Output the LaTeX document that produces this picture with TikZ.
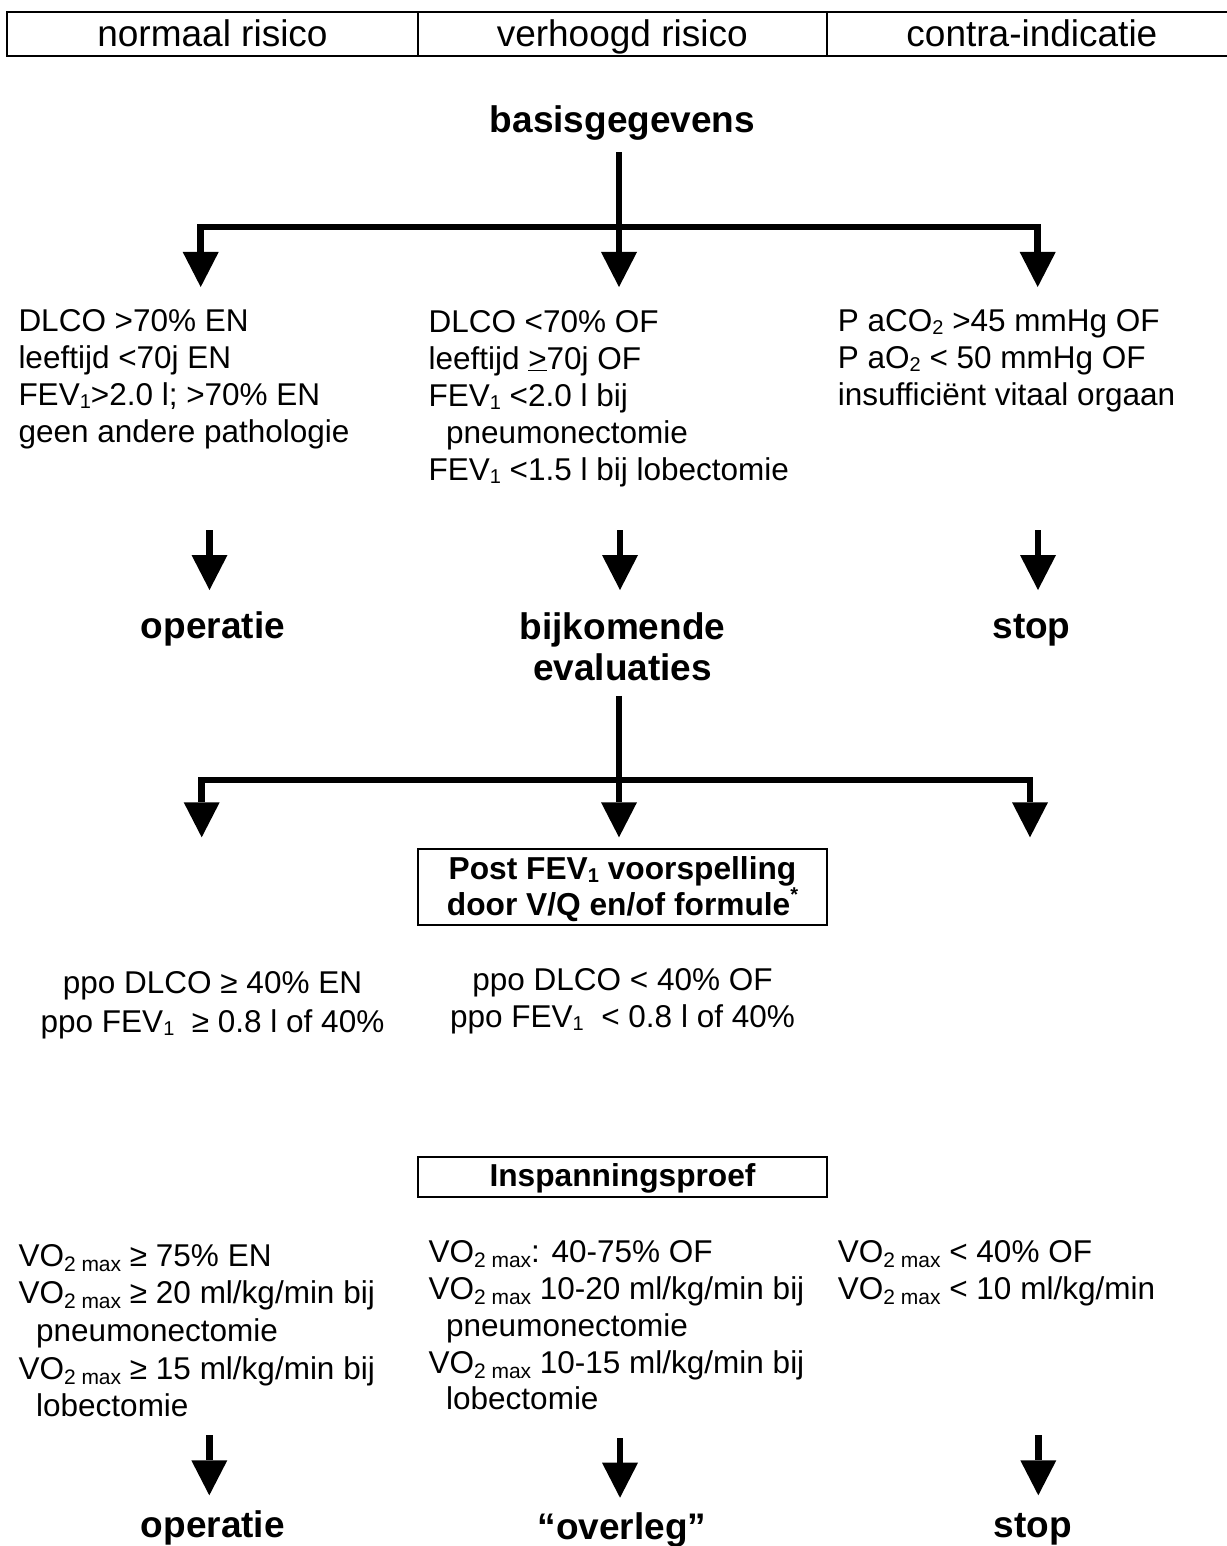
\documentclass[tikz,border=0pt]{standalone}
\usepackage{fontspec}
\setmainfont{Liberation Sans}
\usetikzlibrary{arrows.meta}
\newcommand\dnA[1]{\raisebox{-3pt}{\fontsize{20}{20}\selectfont #1}}
\newcommand\dnB[1]{\raisebox{-5pt}{\fontsize{21}{21}\selectfont #1}}
\newcommand\astsup{\raisebox{14pt}{\fontsize{20}{20}\selectfont *}}
\newcommand\stA{\rule{0pt}{27pt}}
\newcommand\stT{\rule{0pt}{30pt}}
\begin{document}
\begin{tikzpicture}[x=1pt,y=-1pt,
 hcell/.style={draw,line width=1.8pt,minimum width=410.4pt,minimum height=44pt,text height=30pt,text depth=4pt,inner sep=0pt,font=\fontsize{37}{44}\selectfont},
 pbox/.style={draw,line width=1.8pt,minimum width=409.6pt,inner sep=0pt,font=\bfseries\fontsize{31.7}{35.7}\selectfont},
 body/.style={inner sep=0pt,anchor=north west,align=left,font=\fontsize{31.5}{37}\selectfont},
 cbody/.style={inner sep=0pt,anchor=north,align=center,font=\fontsize{31.5}{37}\selectfont},
 title/.style={inner sep=0pt,anchor=base,font=\bfseries\fontsize{37}{41}\selectfont},
 stem/.style={line width=6.5pt},
 arr/.style={line width=6.5pt,-{Triangle[width=36pt,length=35pt,line width=0pt]}},
]
\useasboundingbox (0,0) rectangle (1226,1546);

% header table
\node[hcell] (h1) at (212.5,33.7) {normaal risico};
\node[hcell,minimum width=409pt] (h2) at (622.2,33.7) {verhoogd risico};
\node[hcell] (h3) at (1031.9,33.7) {contra-indicatie};

% level 1
\node[title] (bas) at (622.5,133) {basisgegevens};
\coordinate (j1) at (619,227);
\coordinate (a1) at (200.7,287);
\coordinate (a2) at (619,287);
\coordinate (a3) at (1037.7,287);
\draw[stem,shorten <=11pt] (bas.south -| j1) -- (j1);
\draw[arr] (j1) -| (a1);
\draw[arr] (j1) -- (a2);
\draw[arr] (j1) -| (a3);

\node[body] (t1) at (18.3,304.7) {\stA DLCO >70\% EN\\leeftijd <70j EN\\FEV\dnA{1}>2.0 l; >70\% EN\\geen andere pathologie};
\node[body] (t2) at (428.3,305) {\stA DLCO <70\% OF\\leeftijd \underline{>}70j OF\\FEV\dnA{1} <2.0 l bij\\\hspace*{17.7pt}pneumonectomie\\FEV\dnA{1} <1.5 l bij lobectomie};
\node[body] (t3) at (837.7,304.7) {\stA P aCO\dnA{2} >45 mmHg OF\\P aO\dnA{2} < 50 mmHg OF\\insufficiënt vitaal orgaan};

\coordinate (b1s) at (209.5,530);
\coordinate (b1t) at (209.5,590);
\coordinate (b2s) at (620,530);
\coordinate (b2t) at (620,590);
\coordinate (b3s) at (1038,530);
\coordinate (b3t) at (1038,590);
\draw[arr] (b1s) -- (b1t);
\draw[arr] (b2s) -- (b2t);
\draw[arr] (b3s) -- (b3t);

\node[title] (op1) at (212.9,638.3) {operatie};
\node[title,anchor=north,align=center] (bk) at (622.5,609) {\stT bijkomende\\evaluaties};
\node[title] (st1) at (1031.5,638.3) {stop};

% level 2
\coordinate (j2) at (619,780);
\coordinate (c1) at (201.7,837.3);
\coordinate (c2) at (619,837.3);
\coordinate (c3) at (1030,837.3);
\draw[stem,shorten <=15pt] (bk.south -| j2) -- (j2);
\draw[arr] (j2) -| (c1);
\draw[arr] (j2) -- (c2);
\draw[arr] (j2) -| (c3);

\node[pbox,minimum height=75.7pt,align=center] (bx1) at (622.5,887.15) {\rule{0pt}{28pt}Post FEV\dnA{1} voorspelling\\door V/Q en/of formule\astsup\rule[-6.7pt]{0pt}{6.7pt}};

\node[cbody,font=\fontsize{31.5}{39.4}\selectfont] (p1) at (212.5,966.3) {\stA ppo DLCO ≥ 40\% EN\\ppo FEV\dnA{1}\ \ ≥ 0.8 l of 40\%};
\node[cbody] (p2) at (622.5,963) {\stA ppo DLCO < 40\% OF\\ppo FEV\dnA{1}\ \ < 0.8 l of 40\%};

% level 3
\node[pbox,minimum height=39.4pt,text height=26pt,text depth=6.7pt] (bx2) at (622.5,1177) {Inspanningsproef};

\node[body,font=\fontsize{31.5}{37.6}\selectfont] (v1) at (18.3,1239) {\stA VO\dnB{2 max} ≥ 75\% EN\\VO\dnB{2 max} ≥ 20 ml/kg/min bij\\\hspace*{17.7pt}pneumonectomie\\VO\dnB{2 max} ≥ 15 ml/kg/min bij\\\hspace*{17.7pt}lobectomie};
\node[body,font=\fontsize{31.5}{36.7}\selectfont] (v2) at (428.3,1235.7) {\stA VO\dnB{2 max}: 40-75\% OF\\VO\dnB{2 max} 10-20 ml/kg/min bij\\\hspace*{17.7pt}pneumonectomie\\VO\dnB{2 max} 10-15 ml/kg/min bij\\\hspace*{17.7pt}lobectomie};
\node[body,font=\fontsize{31.5}{36.7}\selectfont] (v3) at (837.7,1235.7) {\stA VO\dnB{2 max} < 40\% OF\\VO\dnB{2 max} < 10 ml/kg/min};

\coordinate (d1s) at (209.3,1435.3);
\coordinate (d1t) at (209.3,1495.3);
\coordinate (d2s) at (620,1438);
\coordinate (d2t) at (620,1497.7);
\coordinate (d3s) at (1038.3,1435.3);
\coordinate (d3t) at (1038.3,1495.3);
\draw[arr] (d1s) -- (d1t);
\draw[arr] (d2s) -- (d2t);
\draw[arr] (d3s) -- (d3t);

\node[title] (op2) at (212.8,1537.7) {operatie};
\node[title] (ov) at (622,1539) {“overleg”};
\node[title] (st2) at (1032.7,1537.7) {stop};
\end{tikzpicture}
\end{document}
